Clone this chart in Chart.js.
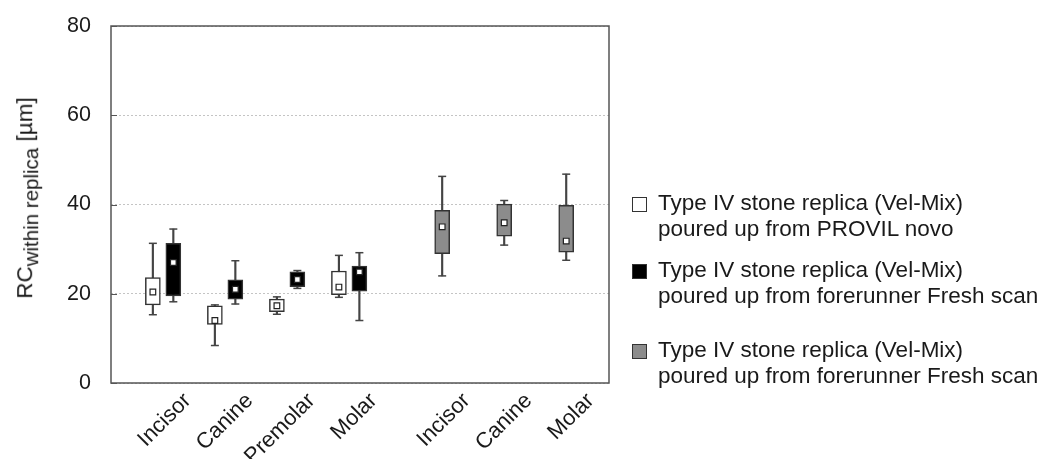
<!DOCTYPE html>
<html>
<head>
<meta charset="utf-8">
<title>RC within replica</title>
<script src="https://cdn.jsdelivr.net/npm/chart.js@4.4.1/dist/chart.umd.min.js"></script>
<style>
  body { margin: 0; background: #fff; font-family: "Liberation Sans", Arial, sans-serif; color: #1a1a1a; }
  #wrap { position: relative; width: 1042px; height: 459px; overflow: hidden; }
  #chart { position: absolute; left: 0; top: 0; }
  #ytitle { position: absolute; left: 28px; top: 198px; transform: translate(-50%, -50%) rotate(-90deg);
            white-space: nowrap; font-size: 22.5px; line-height: 1; }
  #ytitle sub { font-size: 20.5px; vertical-align: -0.3em; line-height: 1; }
  .lg { position: absolute; left: 632px; font-size: 22.5px; line-height: 26px; white-space: nowrap; }
  .lg .sw { position: absolute; left: 0; top: 7px; width: 13px; height: 13px; border: 1.5px solid #333; }
  .lg .tx { margin-left: 26px; }
</style>
</head>
<body>
<div id="wrap">
  <canvas id="chart" width="1042" height="459"></canvas>
  <div id="ytitle">RC<sub>within replica</sub> [µm]</div>
  <div class="lg" style="top:190px"><span class="sw" style="background:#fff"></span>
    <div class="tx">Type IV stone replica (Vel-Mix)<br>poured up from PROVIL novo</div></div>
  <div class="lg" style="top:257px"><span class="sw" style="background:#000"></span>
    <div class="tx">Type IV stone replica (Vel-Mix)<br>poured up from forerunner Fresh scan</div></div>
  <div class="lg" style="top:337px"><span class="sw" style="background:#8c8c8c"></span>
    <div class="tx">Type IV stone replica (Vel-Mix)<br>poured up from forerunner Fresh scan</div></div>
</div>
<script>
'use strict';

// ***** DATA *****
const groupA = ['Incisor', 'Canine', 'Premolar', 'Molar'];
const groupB = ['Incisor', 'Canine', 'Molar'];
// place of each tooth on the x axis (second group sits after a gap)
const posA = [1, 2, 3, 4];
const posB = [5.5, 6.5, 7.5];
const yTicks = [0, 20, 40, 60, 80];

// poured up from PROVIL novo (white)
const provilMin = [15.3, 8.4, 15.4, 19.2];
const provilQ1 = [17.5, 13.1, 16.0, 19.8];
const provilMedian = [20.4, 14.0, 17.3, 21.5];
const provilQ3 = [23.6, 17.3, 18.8, 25.1];
const provilMax = [31.3, 17.5, 19.3, 28.6];

// poured up from forerunner Fresh scan (black)
const freshMin = [18.2, 17.7, 21.2, 14.0];
const freshQ1 = [19.5, 18.8, 21.6, 20.6];
const freshMedian = [27.0, 21.0, 23.2, 24.9];
const freshQ3 = [31.3, 23.1, 24.9, 26.2];
const freshMax = [34.5, 27.4, 25.2, 29.2];

// poured up from forerunner Fresh scan (grey)
const greyMin = [24.0, 30.9, 27.5];
const greyQ1 = [29.0, 32.9, 29.3];
const greyMedian = [35.0, 35.9, 31.8];
const greyQ3 = [38.7, 40.1, 39.8];
const greyMax = [46.3, 40.9, 46.8];

// ***** HELPERS *****
const pairShift = 0.165;
const whiteX = posA.map(p => p - pairShift);
const blackX = posA.map(p => p + pairShift);
const greyX = posB;

function rangeData(xs, lo, hi){
  return xs.map((x, i) => ({ x: x, y: [lo[i], hi[i]] }));
}

function pointData(xs, vals){
  return xs.map((x, i) => ({ x: x, y: vals[i] }));
}

const tickLabels = groupA.concat(groupB);
const tickPos = posA.concat(posB);
const font = { family: '"Liberation Sans", Arial, sans-serif', size: 21.5 };

// box round the plot area plus short inward ticks on the y axis
const frame = {
  id: 'frame',
  beforeDatasetsDraw(chart){
    const { ctx, chartArea: a, scales } = chart;
    ctx.save();
    ctx.strokeStyle = '#555';
    ctx.lineWidth = 1.5;
    ctx.strokeRect(a.left, a.top, a.right - a.left, a.bottom - a.top);
    ctx.lineWidth = 1;
    ctx.beginPath();
    yTicks.forEach(v => {
      const y = Math.round(scales.y.getPixelForValue(v)) + 0.5;
      ctx.moveTo(a.left, y);
      ctx.lineTo(a.left + 6, y);
    });
    ctx.stroke();
    ctx.restore();
  }
};

function boxSet(data, fill){
  return {
    type: 'bar',
    data: data,
    backgroundColor: fill,
    borderColor: '#333',
    borderWidth: 1.5,
    borderSkipped: false,
    barThickness: 15,
    grouped: false,
    order: 1
  };
}

// ***** CHART *****
new Chart(document.getElementById('chart'), {
  type: 'bar',
  data: {
    datasets: [
      {
        type: 'bar',
        data: rangeData(whiteX, provilMin, provilMax)
          .concat(rangeData(blackX, freshMin, freshMax))
          .concat(rangeData(greyX, greyMin, greyMax)),
        backgroundColor: '#444',
        barThickness: 1.5,
        grouped: false,
        order: 3
      },
      {
        type: 'scatter',
        data: pointData(whiteX, provilMin).concat(pointData(whiteX, provilMax))
          .concat(pointData(blackX, freshMin)).concat(pointData(blackX, freshMax))
          .concat(pointData(greyX, greyMin)).concat(pointData(greyX, greyMax)),
        pointStyle: 'line',
        pointRadius: 4,
        borderColor: '#444',
        borderWidth: 1.5,
        order: 2
      },
      boxSet(rangeData(whiteX, provilQ1, provilQ3), '#fff'),
      boxSet(rangeData(blackX, freshQ1, freshQ3), '#000'),
      boxSet(rangeData(greyX, greyQ1, greyQ3), '#8c8c8c'),
      {
        type: 'scatter',
        data: pointData(whiteX, provilMedian)
          .concat(pointData(blackX, freshMedian))
          .concat(pointData(greyX, greyMedian)),
        pointStyle: 'rect',
        pointRadius: 4,
        backgroundColor: '#fff',
        borderColor: '#222',
        borderWidth: 1.2,
        order: 0
      }
    ]
  },
  options: {
    responsive: false,
    animation: false,
    layout: { padding: { left: 0, right: 433, top: 26, bottom: 0 } },
    plugins: { legend: { display: false }, tooltip: { enabled: false } },
    scales: {
      x: {
        type: 'linear',
        offset: false,
        min: 0.16,
        max: 8.19,
        grid: { display: false },
        border: { display: false },
        afterBuildTicks: s => { s.ticks = tickPos.map(v => ({ value: v })); },
        afterFit: s => { s.height = 76; s.paddingLeft = 0; s.paddingRight = 0; },
        ticks: {
          autoSkip: false,
          minRotation: 45,
          maxRotation: 45,
          labelOffset: 24.5,
          padding: -3,
          font: { family: font.family, size: 22 },
          color: '#1a1a1a',
          callback: (v, i) => tickLabels[i]
        }
      },
      y: {
        min: 0,
        max: 80,
        afterBuildTicks: s => { s.ticks = yTicks.map(v => ({ value: v })); },
        afterFit: s => { s.width = 111; s.paddingTop = 0; s.paddingBottom = 0; },
        grid: { color: '#c4c4c4', lineWidth: 1, drawTicks: false },
        border: { display: false, dash: [2, 2] },
        ticks: { padding: 20, font: font, color: '#1a1a1a' }
      }
    }
  },
  plugins: [frame]
});
</script>
</body>
</html>
